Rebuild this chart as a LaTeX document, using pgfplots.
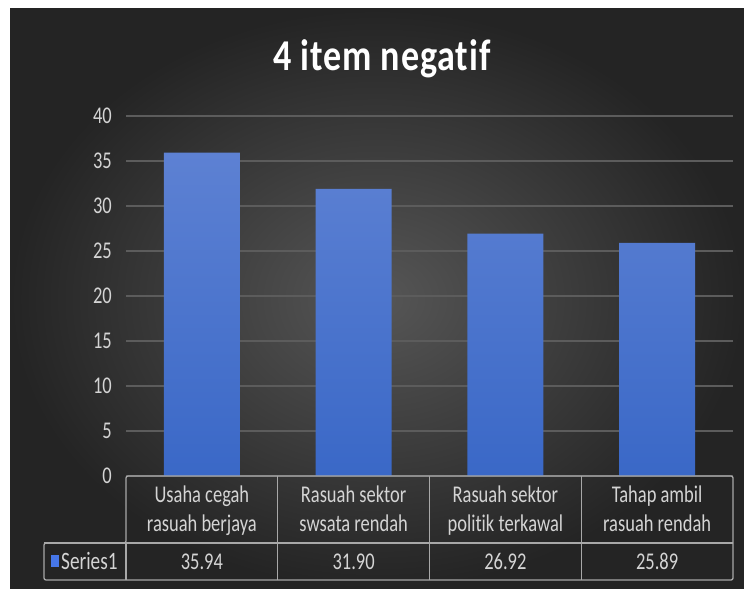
\documentclass[border=0pt]{standalone}
\usepackage{pgfplots}
\pgfplotsset{compat=1.18}
\usepackage{fontspec}
\setmainfont{Carlito}[FakeStretch=0.77,Ligatures={NoCommon}]
\newfontfamily\titlefont{Carlito}[FakeStretch=0.82,LetterSpace=2,Ligatures={NoCommon}]
\definecolor{bgin}{RGB}{86,86,86}
\definecolor{bgout}{RGB}{36,36,36}
\definecolor{gridc}{RGB}{92,92,92}
\definecolor{tline}{RGB}{168,168,168}
\definecolor{txt}{RGB}{212,212,212}
\definecolor{bartop}{RGB}{93,129,211}
\definecolor{barbot}{RGB}{58,104,199}
\definecolor{keyc}{RGB}{70,118,232}
\begin{document}
\begin{tikzpicture}[x=1pt,y=1pt]
\useasboundingbox (0,0) rectangle (744,589);
\fill[white] (0,0) rectangle (744,589);
\shade[inner color=bgin, outer color=bgout] (10,0) rectangle (744,580);
\node[anchor=base, text=white, inner sep=0pt] at (382,518) {\titlefont\bfseries\fontsize{44}{50}\selectfont 4 item negatif};
\begin{axis}[
  at={(126pt,113pt)}, anchor=south west,
  scale only axis, width=607pt, height=360pt,
  xmin=-0.5, xmax=3.5, ymin=0, ymax=40,
  axis line style={draw=none},
  major tick length=0pt,
  tick style={draw=none},
  ytick={0,5,10,15,20,25,30,35,40},
  ymajorgrids,
  grid style={gridc, line width=1.5pt},
  /pgf/number format/assume math mode=true,
  yticklabel style={font=\fontsize{24}{29}\selectfont, text=txt, anchor=east, inner sep=0pt, xshift=-14pt},
  xtick={0,1,2,3},
  xticklabels={{Usaha cegah\\rasuah berjaya},{Rasuah sektor\\swsata rendah},{Rasuah sektor\\politik terkawal},{Tahap ambil\\rasuah rendah}},
  xticklabel style={font=\fontsize{24}{29}\selectfont, text=txt, align=center, anchor=north, inner sep=0pt, yshift=-10pt},
]
\addplot[ybar, bar width=76pt, draw=none, shade, top color=bartop, bottom color=barbot]
  coordinates {(0,35.94) (1,31.90) (2,26.92) (3,25.89)};
\end{axis}
% data table frame
\draw[tline, line width=1.3pt, rounded corners=2pt] (126,113) -- (733,113) -- (733,9) -- (44,9) -- (44,46) -- (126,46) -- cycle;
\draw[tline, line width=1.3pt] (44,46) -- (733,46);
\draw[tline, line width=1.3pt] (126,46) -- (126,9);
\foreach \xx in {277.75,429.5,581.25} {\draw[tline, line width=1.3pt] (\xx,113) -- (\xx,9);}
\fill[keyc] (51,22) rectangle (59,34);
\node[anchor=base west, text=txt, inner sep=0pt, font=\fontsize{25}{29}\selectfont] at (61,19) {Series1};
\node[anchor=base, text=txt, inner sep=0pt, font=\fontsize{24}{29}\selectfont] at (201.9,19) {35.94};
\node[anchor=base, text=txt, inner sep=0pt, font=\fontsize{24}{29}\selectfont] at (353.6,19) {31.90};
\node[anchor=base, text=txt, inner sep=0pt, font=\fontsize{24}{29}\selectfont] at (505.4,19) {26.92};
\node[anchor=base, text=txt, inner sep=0pt, font=\fontsize{24}{29}\selectfont] at (657.1,19) {25.89};
\end{tikzpicture}
\end{document}
